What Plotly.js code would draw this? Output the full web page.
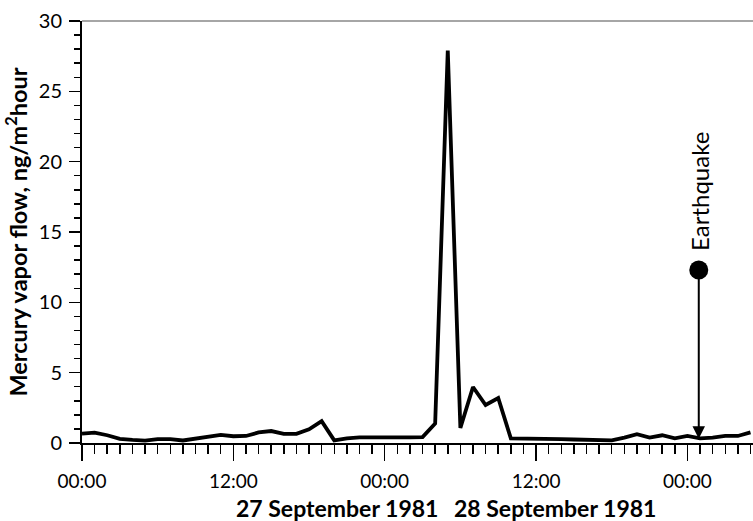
<!DOCTYPE html>
<html>
<head>
<meta charset="utf-8">
<script src="https://cdn.plot.ly/plotly-3.0.1.min.js"></script>
<style>html,body{margin:0;padding:0;background:#fff;}#chart{width:753px;height:521px;}</style>
</head>
<body>
<div id="chart"></div>
<script>
// Hours since 00:00 (first tick)
const hours = [0,1,2,3,4,5,6,7,8,9,10,11,12,13,14,15,16,17,18,19,20,21,22,23,24,25,26,27,28,29,30,31,32,33,34,35,36,37,38,39,40,41,42,43,44,45,46,47,48,49,50,51,52,53];
// Mercury vapor flow, ng/m2 hour
const flow = [0.67,0.74,0.55,0.3,0.22,0.17,0.27,0.27,0.18,0.3,0.48,0.58,0.48,0.5,0.75,0.85,0.65,0.65,0.97,1.55,0.19,0.33,0.4,0.42,0.42,0.4,0.4,0.42,1.38,27.9,1.07,3.98,2.7,3.2,0.33,0.3,0.3,0.28,0.27,0.25,0.23,0.2,0.19,0.38,0.62,0.38,0.55,0.33,0.5,0.33,0.38,0.5,0.5,0.75];
const tickHours = [0,12,24,36,48];
const tickLabels = ["00:00","12:00","00:00","12:00","00:00"];
const dayLabels = ["27 September 1981","28 September 1981"];
const quakeHour = [48.9];
const quakeMarkerValue = [12.3];
const quakeArrowTip = 0.3;
const quakeLabel = "Earthquake";

const FONT = "Lato, Open Sans, sans-serif";

const traces = [
  {x: hours, y: flow, type: "scatter", mode: "lines",
   line: {color: "#000", width: 3.8}, hoverinfo: "skip"},
  {x: quakeHour, y: quakeMarkerValue, type: "scatter", mode: "markers",
   marker: {color: "#000", size: 19}, hoverinfo: "skip"}
];

const layout = {
  width: 753, height: 521,
  margin: {l: 82, r: 0, t: 21, b: 78},
  paper_bgcolor: "#fff", plot_bgcolor: "#fff",
  showlegend: false,
  font: {family: FONT, color: "#000"},
  xaxis: {
    range: [0, 53.2],
    tickmode: "array", tickvals: tickHours, ticktext: tickLabels,
    ticks: "outside", ticklen: 16, tickwidth: 1.5, tickcolor: "#000",
    minor: {dtick: 1, tick0: 0, ticks: "outside", ticklen: 9, tickwidth: 1.5, tickcolor: "#000"},
    showline: true, linecolor: "#000", linewidth: 1.5,
    showgrid: false, zeroline: false,
    tickfont: {size: 19, family: FONT, color: "#000"},
    ticklabelstandoff: 5
  },
  yaxis: {
    range: [0, 30],
    tickmode: "linear", tick0: 0, dtick: 5,
    ticks: "outside", ticklen: 11, tickwidth: 1.5, tickcolor: "#000",
    minor: {dtick: 1, tick0: 0, ticks: "outside", ticklen: 6, tickwidth: 1.5, tickcolor: "#000"},
    showline: true, linecolor: "#000", linewidth: 2,
    showgrid: false, zeroline: false,
    tickfont: {size: 20, family: FONT, color: "#000"},
    ticklabelstandoff: 3,
    title: {text: "Mercury vapor flow, ng/m<sup>2</sup>hour", font: {size: 23.5, family: FONT, color: "#000", weight: "bold"}, standoff: 5}
  },
  shapes: [
    {type: "line", xref: "paper", yref: "paper", x0: 0, x1: 1, y0: 1, y1: 1,
     line: {color: "#888", width: 1.5}}
  ],
  annotations: [
    {xref: "paper", yref: "paper", x: 0.380, y: -0.155, text: "<b>" + dayLabels[0] + "</b>",
     showarrow: false, font: {size: 23, family: FONT, color: "#000"}, xanchor: "center", yanchor: "middle"},
    {xref: "paper", yref: "paper", x: 0.705, y: -0.155, text: "<b>" + dayLabels[1] + "</b>",
     showarrow: false, font: {size: 23, family: FONT, color: "#000"}, xanchor: "center", yanchor: "middle"},
    {xref: "x", yref: "y", x: quakeHour[0], y: quakeArrowTip, axref: "x", ayref: "y",
     ax: quakeHour[0], ay: quakeMarkerValue[0], showarrow: true, arrowhead: 2, arrowsize: 1.25,
     arrowwidth: 2, arrowcolor: "#000", text: ""},
    {xref: "x", yref: "y", x: quakeHour[0], y: 17.9, text: quakeLabel, textangle: -90,
     showarrow: false, font: {size: 24, family: FONT, color: "#000"}, xanchor: "center", yanchor: "middle"}
  ]
};

Plotly.newPlot("chart", traces, layout, {staticPlot: true, displayModeBar: false});
</script>
</body>
</html>
